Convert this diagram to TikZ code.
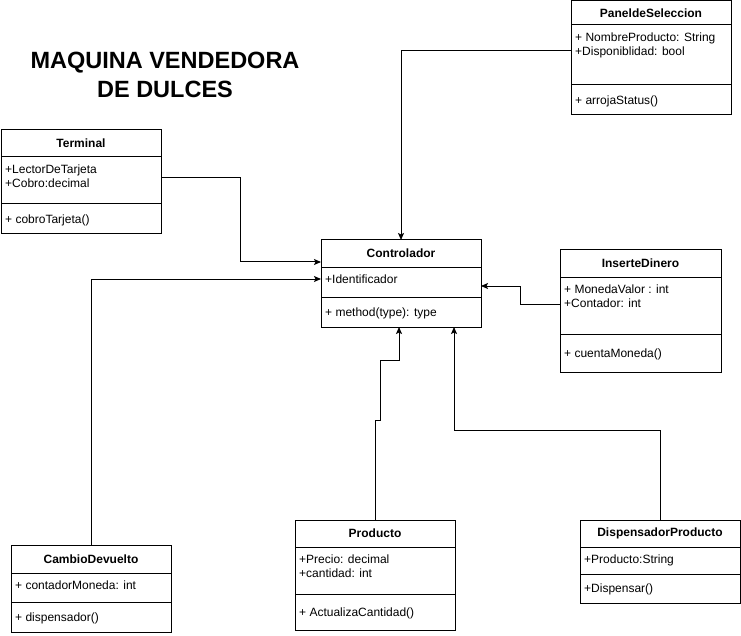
\documentclass[tikz,border=0pt]{standalone}
\usepackage{fontspec}
\setmainfont{Liberation Sans}
\usetikzlibrary{positioning,arrows.meta}

\tikzset{
  umlhead/.style={draw=black, line width=1pt, outer sep=0pt, inner sep=2pt, font=\fontsize{12}{14.5}\selectfont\bfseries},
  umlrow/.style={draw=black, line width=1pt, outer sep=0pt, inner sep=0pt},
  umltext/.style={inner sep=0pt, align=left, font=\fontsize{12}{14.5}\selectfont},
  assoc/.style={line width=1pt, -{Stealth[length=7pt,width=6pt,inset=1.5pt]}}
}

% name, top left, width, header, attrs, ops, title, attributes, methods
\newcommand{\umlclass}[9]{%
  \node[umlhead, minimum width=#3, minimum height=#4, anchor=north west] (#1) at (#2) {#7};
  \node[umlrow, minimum width=#3, minimum height=#5, below=0pt of #1] (#1-attr) {};
  \node[umlrow, minimum width=#3, minimum height=#6, below=0pt of #1-attr] (#1-ops) {};
  \node[umltext, anchor=north west] (#1-attrtext) at ([shift={(4pt,-7.5pt)}]#1-attr.north west) {#8};
  \node[umltext, anchor=west] (#1-opstext) at ([shift={(4pt,-1pt)}]#1-ops.west) {#9};
}

\begin{document}
\begin{tikzpicture}[x=1pt, y=-1pt]
  \useasboundingbox (0,0) rectangle (741,636);

  \node[font=\fontsize{23.5}{29}\selectfont\bfseries, align=center] (title) at (165,74.5) {MAQUINA VENDEDORA\\DE DULCES};

  % classes
  \umlclass{panel}{571,1}{160pt}{24pt}{60pt}{30pt}{PaneldeSeleccion}{+ NombreProducto: String\\+Disponiblidad: bool}{+ arrojaStatus()}
  \umlclass{terminal}{1,130}{160pt}{27pt}{47pt}{30pt}{Terminal}{+LectorDeTarjeta\\+Cobro:decimal}{+ cobroTarjeta()}
  \umlclass{ctrl}{321,240}{160pt}{27pt}{30pt}{30pt}{Controlador}{+Identificador}{+ method(type): type}
  \umlclass{inserte}{560,250}{161pt}{27pt}{57pt}{38pt}{InserteDinero}{+ MonedaValor : int\\+Contador: int}{+ cuentaMoneda()}
  \umlclass{cambio}{11,545}{160pt}{28pt}{29pt}{30pt}{CambioDevuelto}{+ contadorMoneda: int}{+ dispensador()}
  \umlclass{producto}{295,520}{160pt}{27pt}{47pt}{36pt}{Producto}{+Precio: decimal\\+cantidad: int}{+ ActualizaCantidad()}
  \umlclass{disp}{580,520}{160pt}{27pt}{27pt}{29pt}{DispensadorProducto}{+Producto:String}{+Dispensar()}

  % connectors
  \draw[assoc] ([yshift=4pt]panel-attr.west) -| (ctrl.north);
  \draw[assoc] ([yshift=2.5pt]terminal-attr.east) -- ++(79,0) |- ([yshift=-8.5pt]ctrl.west);
  \draw[assoc] (cambio.north) |- ([yshift=3pt]ctrl-attr.west);
  \draw[assoc] ([yshift=1.5pt]inserte-attr.west) -- ++(-40,0) |- ([yshift=-4pt]ctrl-attr.east);
  \draw[assoc] (producto.north) -- ++(0,-100) -- ++(5,0) -- ++(0,-60) -| ([xshift=-2pt]ctrl-ops.south);
  \draw[assoc] (disp.north) -- ++(0,-90) -| ([xshift=53pt]ctrl-ops.south);
\end{tikzpicture}
\end{document}
